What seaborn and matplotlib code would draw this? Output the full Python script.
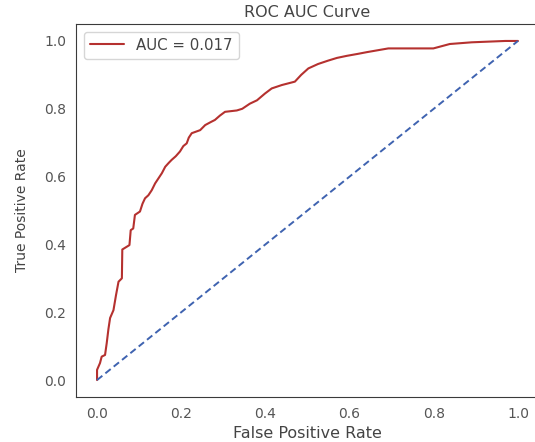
import matplotlib
matplotlib.use("Agg")
import matplotlib.pyplot as plt
import seaborn as sns
import pandas as pd

fpr = [0.0, 0.0, 0.007, 0.011, 0.019, 0.023, 0.027, 0.031, 0.039, 0.045, 0.051, 0.059,
       0.060, 0.077, 0.080, 0.086, 0.090, 0.102, 0.108, 0.114, 0.122, 0.130, 0.138, 0.146,
       0.154, 0.162, 0.170, 0.177, 0.187, 0.197, 0.205, 0.213, 0.218, 0.225, 0.245, 0.257,
       0.272, 0.280, 0.292, 0.304, 0.332, 0.345, 0.363, 0.380, 0.399, 0.415, 0.439, 0.470,
       0.485, 0.502, 0.525, 0.549, 0.570, 0.593, 0.620, 0.641, 0.692, 0.799, 0.838, 0.890,
       0.970, 1.0]
tpr = [0.0, 0.03, 0.05, 0.069, 0.074, 0.109, 0.15, 0.183, 0.206, 0.25, 0.29, 0.30,
       0.385, 0.398, 0.442, 0.447, 0.487, 0.497, 0.52, 0.536, 0.545, 0.560, 0.58, 0.595,
       0.61, 0.629, 0.64, 0.649, 0.66, 0.674, 0.69, 0.698, 0.715, 0.728, 0.737, 0.752,
       0.762, 0.767, 0.78, 0.791, 0.795, 0.80, 0.815, 0.825, 0.845, 0.86, 0.870, 0.880,
       0.90, 0.919, 0.932, 0.942, 0.950, 0.956, 0.962, 0.967, 0.978, 0.978, 0.991, 0.996,
       1.0, 1.0]
diag = [0.0, 1.0]
auc_label = "AUC = 0.017"

sns.set_style("white")
fig = plt.figure(figsize=(5.35, 4.42), dpi=100)
ax = fig.add_axes([76 / 535, 45 / 442, 463 / 535, 373 / 442])

df = pd.DataFrame({"fpr": fpr, "tpr": tpr})
sns.lineplot(data=df, x="fpr", y="tpr", sort=False, estimator=None, ax=ax,
             color="#b5312f", linewidth=1.5, label=auc_label)
sns.lineplot(x=diag, y=diag, ax=ax, estimator=None, color="#3f63b0",
             linestyle=(0, (3.5, 2)), linewidth=1.4)

for s in ax.spines.values():
    s.set_color("#3a3a3a")

ax.set_xlim(-0.05, 1.05)
ax.set_ylim(-0.05, 1.05)
ax.set_xticks([0.0, 0.2, 0.4, 0.6, 0.8, 1.0])
ax.set_yticks([0.0, 0.2, 0.4, 0.6, 0.8, 1.0])
ax.tick_params(labelsize=10, colors="#555555")
ax.set_xlabel("False Positive Rate", fontsize=11.5, color="#444444")
ax.set_ylabel("True Positive Rate", fontsize=10, color="#444444", labelpad=11)
ax.set_title("ROC AUC Curve", fontsize=11.5, color="#444444", pad=5)
leg = ax.legend(loc="upper left", fontsize=10.8, handlelength=2.3)
for t in leg.get_texts():
    t.set_color("#444444")

fig.savefig("out.png", dpi=100)
